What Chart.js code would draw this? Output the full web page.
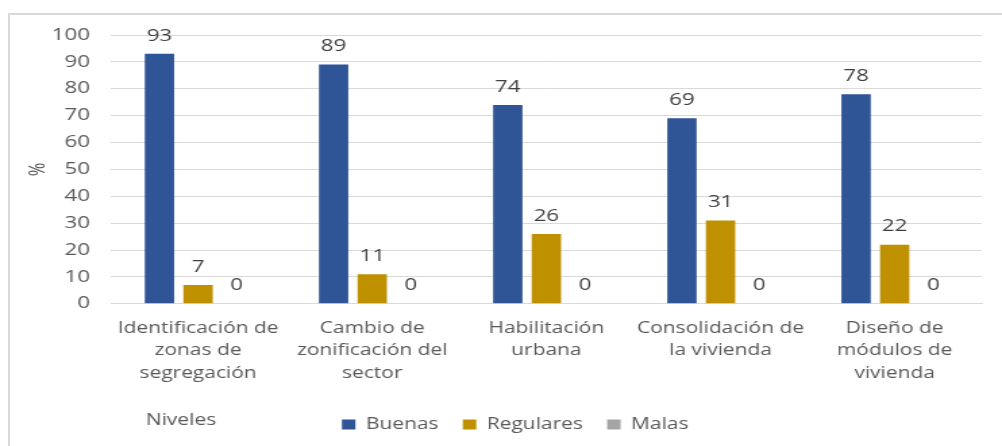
<!DOCTYPE html>
<html><head><meta charset="utf-8">
<script src="https://cdn.jsdelivr.net/npm/chart.js@4.4.0/dist/chart.umd.min.js"></script>
<style>
html,body{margin:0;padding:0;background:#fff;overflow:hidden;width:1002px;height:446px;}
#frame{position:absolute;left:8px;top:13px;width:1010px;height:470px;border:2px solid #d9d9d9;box-sizing:border-box;}
#wrap{position:absolute;left:0;top:0;width:742px;height:446px;transform-origin:0 0;transform:scaleX(1.35040431);}
</style></head><body>
<div id="frame"></div>
<div id="wrap"><canvas id="c" width="742" height="446"></canvas></div>
<script>
// ---- data ----
const categories = [
  ["Identificación de","zonas de","segregación"],
  ["Cambio de","zonificación del","sector"],
  ["Habilitación","urbana"],
  ["Consolidación de","la vivienda"],
  ["Diseño de","módulos de","vivienda"]
];
const seriesNames = ["Buenas","Regulares","Malas"];
const buenas = [93,89,74,69,78];
const regulares = [7,11,26,31,22];
const malas = [0,0,0,0,0];
const yMin = 0, yMax = 100, yStep = 10;
const yTitle = "%";
const xTitle = "Niveles";

// ---- styling ----
const FONT = '"Open Sans", sans-serif';
const FS = 15.5;
const FSN = 16.5;
const TXT = '#595959';

const dataLabels = {
  id: 'dataLabels',
  afterDatasetsDraw(chart) {
    const ctx = chart.ctx;
    ctx.save();
    ctx.font = FSN + 'px ' + FONT;
    ctx.fillStyle = '#404040';
    ctx.textAlign = 'center';
    ctx.textBaseline = 'middle';
    chart.data.datasets.forEach((ds, i) => {
      chart.getDatasetMeta(i).data.forEach((bar, j) => {
        ctx.fillText(String(ds.data[j]), bar.x, bar.y - 18);
      });
    });
    ctx.restore();
  }
};

const extraText = {
  id: 'extraText',
  afterDraw(chart) {
    const ctx = chart.ctx;
    ctx.save();
    ctx.font = FS + 'px ' + FONT;
    ctx.fillStyle = TXT;
    ctx.textAlign = 'center';
    ctx.textBaseline = 'middle';
    ctx.fillText(xTitle, 134, 421);
    ctx.restore();
  }
};

const legendShift = {
  id: 'legendShift',
  afterLayout(chart) {
    const dx = 13;
    chart.legend.left += dx;
    chart.legend.right += dx;
  }
};

new Chart(document.getElementById('c'), {
  type: 'bar',
  data: {
    labels: categories,
    datasets: [
      {label: seriesNames[0], data: buenas, backgroundColor: '#2F5597'},
      {label: seriesNames[1], data: regulares, backgroundColor: '#BF9000'},
      {label: seriesNames[2], data: malas, backgroundColor: '#A5A5A5'}
    ]
  },
  options: {
    responsive: false,
    animation: false,
    devicePixelRatio: 1,
    layout: {padding: {left: 10, right: 15, top: 35, bottom: 3.75}},
    datasets: {bar: {categoryPercentage: 0.665, barPercentage: 0.76}},
    plugins: {
      tooltip: {enabled: false},
      legend: {
        position: 'bottom',
        labels: {
          boxWidth: 10, boxHeight: 10, padding: 18,
          color: TXT, font: {family: FONT, size: FS}
        }
      }
    },
    scales: {
      x: {
        grid: {display: false, drawTicks: false},
        border: {display: true, color: '#d9d9d9', width: 1},
        ticks: {color: TXT, font: {family: FONT, size: FS, lineHeight: 1.47}, padding: 13, maxRotation: 0, autoSkip: false},
        afterFit(s) { s.height = 95; }
      },
      y: {
        min: yMin, max: yMax,
        grid: {color: '#d9d9d9', drawTicks: false, lineWidth: 1},
        border: {display: false},
        ticks: {stepSize: yStep, color: TXT, font: {family: FONT, size: FSN}, padding: 15.6},
        title: {display: true, text: yTitle, color: TXT, font: {family: FONT, size: FSN}, padding: {top: 8.2, bottom: 0}},
        afterFit(s) { s.width = 72.2; }
      }
    }
  },
  plugins: [dataLabels, extraText, legendShift]
});
</script>
</body></html>
